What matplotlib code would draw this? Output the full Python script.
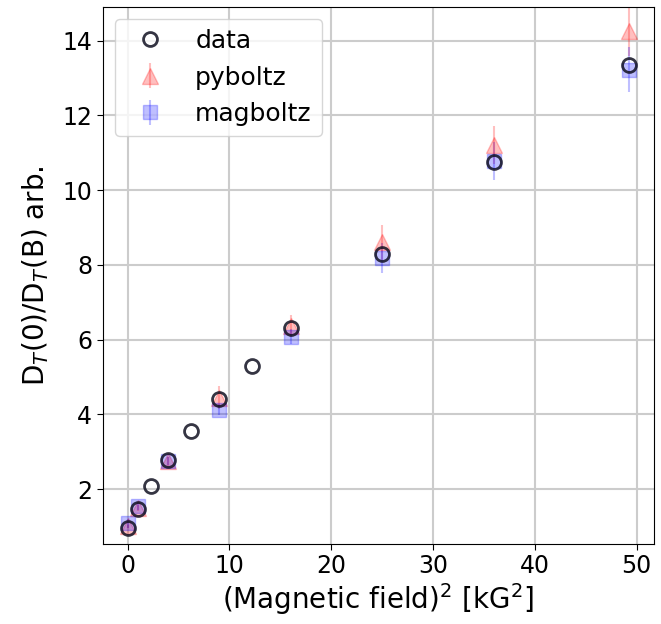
import matplotlib
matplotlib.use("Agg")
import matplotlib.pyplot as plt

# Data
x_data = [0, 1, 2.25, 4, 6.25, 9, 12.25, 16, 25, 36, 49.2]
y_data = [0.96, 1.48, 2.08, 2.78, 3.56, 4.42, 5.30, 6.31, 8.29, 10.76, 13.35]

x_sim = [0, 1, 4, 9, 16, 25, 36, 49.2]
y_py = [1.0, 1.50, 2.75, 4.45, 6.36, 8.60, 11.21, 14.25]
e_py = [0.05, 0.08, 0.12, 0.30, 0.30, 0.48, 0.50, 0.65]
y_mag = [1.08, 1.55, 2.75, 4.12, 6.08, 8.18, 10.78, 13.22]
e_mag = [0.12, 0.10, 0.10, 0.15, 0.20, 0.40, 0.50, 0.60]

fig = plt.figure(figsize=(6.61, 6.24), dpi=100)
ax = fig.add_axes([0.1554, 0.1282, 0.834, 0.861])

ax.errorbar(x_sim, y_py, yerr=e_py, fmt='^', color='red', alpha=0.25,
            ms=11, elinewidth=1.5, label='pyboltz', zorder=2)
ax.errorbar(x_sim, y_mag, yerr=e_mag, fmt='s', color='blue', alpha=0.25,
            ms=10, elinewidth=1.5, label='magboltz', zorder=2)
ax.plot(x_data, y_data, 'o', mfc='none', mec='#111122', mew=2, ms=10,
        label='data', zorder=3, alpha=0.85)

ax.set_xlim(-2.45, 51.7)
ax.set_ylim(0.53, 14.91)
ax.set_xticks([0, 10, 20, 30, 40, 50])
ax.set_yticks([2, 4, 6, 8, 10, 12, 14])
ax.grid(True, color='#cccccc', linewidth=1.5)
ax.set_axisbelow(True)
ax.tick_params(labelsize=17, length=4)
ax.set_xlabel('(Magnetic field)$^2$ [kG$^2$]', fontsize=20, labelpad=2)
ax.set_ylabel('D$_T$(0)/D$_T$(B) arb.', fontsize=20, labelpad=8)

handles, labels = ax.get_legend_handles_labels()
order = [labels.index('data'), labels.index('pyboltz'), labels.index('magboltz')]
ax.legend([handles[i] for i in order], [labels[i] for i in order],
          loc='upper left', fontsize=18, borderaxespad=0.5)

fig.savefig('out.png', dpi=100)
